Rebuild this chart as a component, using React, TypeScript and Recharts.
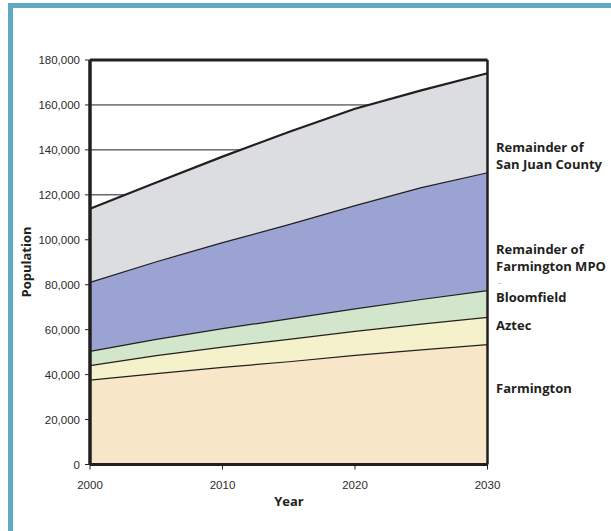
import React from 'react';
import { AreaChart, Area, XAxis, YAxis, CartesianGrid, ReferenceLine } from 'recharts';

const years = [2000, 2005, 2010, 2015, 2020, 2025, 2030];
const farmington = [37844, 40700, 43500, 46000, 48800, 51300, 53600];
const aztec = [6378, 8000, 9000, 10000, 10700, 11400, 12100];
const bloomfield = [6417, 7300, 8200, 9100, 10000, 11000, 11900];
const remainderMPO = [30700, 34500, 38300, 41900, 46000, 49800, 52500];
const remainderCounty = [32500, 35000, 38000, 41000, 42800, 43000, 44000];

const xTicks = [2000, 2010, 2020, 2030];
const yTicks = [0, 20000, 40000, 60000, 80000, 100000, 120000, 140000, 160000, 180000];

const data = years.map((year, i) => ({
  year,
  farmington: farmington[i],
  aztec: aztec[i],
  bloomfield: bloomfield[i],
  remainderMPO: remainderMPO[i],
  remainderCounty: remainderCounty[i],
}));

const INK = '#231f20';
const TEAL = '#62a8c3';
const tickFont = { fontFamily: '"Liberation Sans", Arial, sans-serif', fontSize: 11.5, fill: '#2b2b2b' };
const labelFont = { fontFamily: '"Open Sans", "Noto Sans", sans-serif', fontSize: 13, fontWeight: 700, fill: INK } as const;

export default function App() {
  return (
    <div style={{ position: 'absolute', left: 0, top: 0, width: 611, height: 531, background: '#fff', overflow: 'hidden' }}>
      <div style={{ position: 'absolute', left: 8, top: 3, width: 5, height: 528, background: TEAL }} />
      <div style={{ position: 'absolute', left: 8, top: 3, width: 603, height: 5, background: TEAL }} />
      <div style={{ position: 'absolute', left: 0, top: 0 }}>
        <AreaChart
          width={611}
          height={531}
          data={data}
          margin={{ top: 60, right: 123.5, bottom: 0, left: 0 }}
        >
          <CartesianGrid horizontal vertical={false} stroke={INK} strokeWidth={1} />
          <XAxis
            dataKey="year"
            type="number"
            domain={[2000, 2030]}
            ticks={xTicks}
            height={66.5}
            tickSize={5}
            tickMargin={11}
            tick={tickFont}
            axisLine={{ stroke: INK, strokeWidth: 3 }}
            tickLine={{ stroke: INK, strokeWidth: 1 }}
          />
          <YAxis
            type="number"
            domain={[0, 180000]}
            ticks={yTicks}
            width={90}
            tickSize={5}
            tickMargin={5}
            tick={tickFont}
            tickFormatter={(v: number) => v.toLocaleString('en-US')}
            axisLine={{ stroke: INK, strokeWidth: 3 }}
            tickLine={{ stroke: INK, strokeWidth: 1 }}
          />
          <Area type="linear" dataKey="farmington" stackId="1" fill="#f8e6c8" fillOpacity={1} stroke={INK} strokeWidth={2.5} isAnimationActive={false} />
          <Area type="linear" dataKey="aztec" stackId="1" fill="#f5f2cb" fillOpacity={1} stroke={INK} strokeWidth={2.5} isAnimationActive={false} />
          <Area type="linear" dataKey="bloomfield" stackId="1" fill="#d1e6cb" fillOpacity={1} stroke={INK} strokeWidth={2.5} isAnimationActive={false} />
          <Area type="linear" dataKey="remainderMPO" stackId="1" fill="#9ba3d3" fillOpacity={1} stroke={INK} strokeWidth={2.5} isAnimationActive={false} />
          <Area type="linear" dataKey="remainderCounty" stackId="1" fill="#dcdde1" fillOpacity={1} stroke={INK} strokeWidth={2.2} isAnimationActive={false} />
          <ReferenceLine y={180000} stroke={INK} strokeWidth={3} />
          <ReferenceLine x={2030} stroke={INK} strokeWidth={2.5} />
          <ReferenceLine x={2000} stroke={INK} strokeWidth={3} />
          <ReferenceLine y={0} stroke={INK} strokeWidth={3} />
        </AreaChart>
      </div>
      <svg width={611} height={531} style={{ position: 'absolute', left: 0, top: 0, pointerEvents: 'none' }}>
        <text x={289} y={506} textAnchor="middle" {...labelFont}>Year</text>
        <text x={31} y={262} textAnchor="middle" transform="rotate(-90 31 262)" {...labelFont}>Population</text>
        <text x={496} y={152} {...labelFont}>Remainder of</text>
        <text x={496} y={169} {...labelFont}>San Juan County</text>
        <text x={496} y={254} {...labelFont}>Remainder of</text>
        <text x={496} y={271} {...labelFont}>Farmington MPO</text>
        <text x={498} y={285} fontSize={8} fill="#777" fontFamily="sans-serif">-</text>
        <text x={496} y={302} {...labelFont}>Bloomfield</text>
        <text x={496} y={330} {...labelFont}>Aztec</text>
        <text x={496} y={393} {...labelFont}>Farmington</text>
      </svg>
    </div>
  );
}
